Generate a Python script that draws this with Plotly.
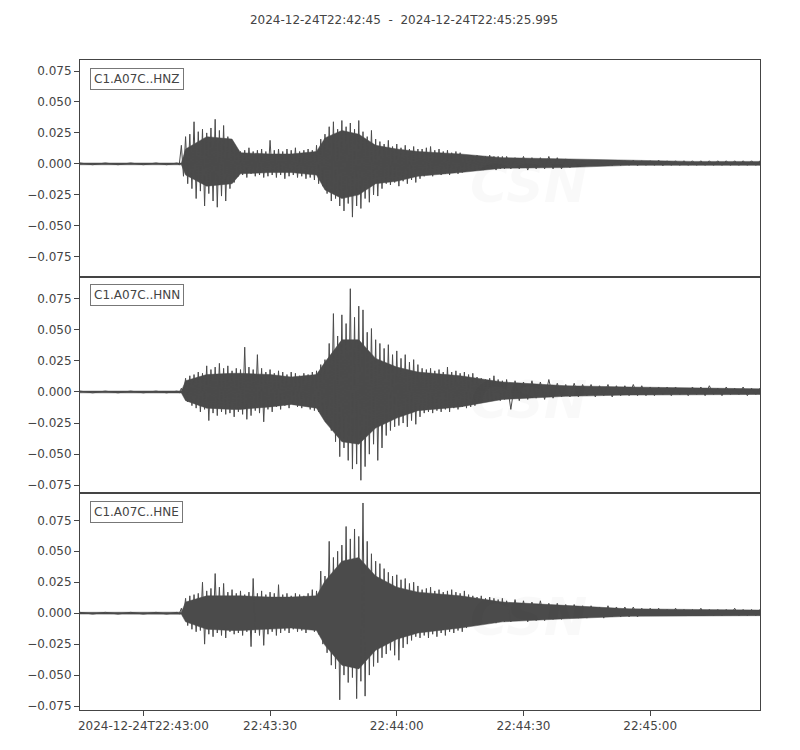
import plotly.graph_objects as go
from plotly.subplots import make_subplots

# Time in seconds after 2024-12-24T22:42:45 (envelope samples)
t_pre = [0, 6, 12, 18, 23]
t_main = list(range(24, 101))
t_tail = list(range(101, 162, 2))
t_sec = t_pre + t_main + t_tail

# coarse times for the dense core of each trace
core_t = [0, 24, 25, 30, 36, 38, 45, 50, 56, 58, 62, 66, 70, 75, 80, 90, 100, 115, 130, 145, 161]

tick_secs = [15, 45, 75, 105, 135]
tick_labels = ["2024-12-24T22:43:00", "22:43:30", "22:44:00", "22:44:30", "22:45:00"]

y_ticks = [-0.075, -0.05, -0.025, 0.0, 0.025, 0.05, 0.075]
y_tick_labels = ["\u22120.075", "\u22120.050", "\u22120.025", "0.000", "0.025", "0.050", "0.075"]

channels = ["C1.A07C..HNZ", "C1.A07C..HNN", "C1.A07C..HNE"]
y_ranges = [[-0.0911, 0.0839], [-0.0815, 0.0927], [-0.0782, 0.0968]]

# per-second maxima / minima
hnz_hi = [0.0007] * 5 + [
    0.015, 0.022, 0.024, 0.034, 0.026, 0.028, 0.025, 0.029, 0.036, 0.027,
    0.031, 0.022, 0.016, 0.012, 0.010, 0.011, 0.013, 0.010, 0.011, 0.012,
    0.010, 0.019, 0.011, 0.012, 0.010, 0.012, 0.011, 0.013, 0.010, 0.011,
    0.012, 0.011, 0.015, 0.020, 0.024, 0.030, 0.034, 0.028, 0.035, 0.030,
    0.033, 0.028, 0.035, 0.026, 0.022, 0.027, 0.020, 0.018, 0.016, 0.019,
    0.014, 0.016, 0.013, 0.015, 0.012, 0.014, 0.012, 0.012, 0.013, 0.014,
    0.011, 0.012, 0.010, 0.011, 0.009, 0.010, 0.009, 0.007, 0.007, 0.006,
    0.007, 0.006, 0.006, 0.007, 0.006, 0.006, 0.006,
] + [
    0.006, 0.005, 0.006, 0.005, 0.005, 0.006, 0.005, 0.004, 0.003, 0.003,
    0.003, 0.003, 0.0025, 0.003, 0.0025, 0.003, 0.0025, 0.0025, 0.003, 0.0025,
    0.0025, 0.0025, 0.0025, 0.0025, 0.0025, 0.0025, 0.0025, 0.0025, 0.0025, 0.0025,
    0.0025,
]
hnz_lo = [-0.0007] * 5 + [
    -0.010, -0.016, -0.020, -0.028, -0.022, -0.034, -0.024, -0.030, -0.035, -0.026,
    -0.030, -0.020, -0.015, -0.010, -0.009, -0.011, -0.008, -0.010, -0.009, -0.011,
    -0.010, -0.009, -0.011, -0.009, -0.012, -0.010, -0.009, -0.011, -0.010, -0.012,
    -0.011, -0.013, -0.016, -0.018, -0.024, -0.030, -0.028, -0.034, -0.038, -0.032,
    -0.043, -0.034, -0.036, -0.028, -0.031, -0.025, -0.026, -0.020, -0.016, -0.017,
    -0.015, -0.018, -0.014, -0.016, -0.013, -0.015, -0.012, -0.010, -0.009, -0.010,
    -0.008, -0.009, -0.008, -0.009, -0.007, -0.008, -0.007, -0.005, -0.004, -0.005,
    -0.004, -0.005, -0.004, -0.004, -0.005, -0.004, -0.004,
] + [
    -0.004, -0.004, -0.005, -0.004, -0.004, -0.004, -0.004, -0.003, -0.002, -0.0015,
    -0.0015, -0.0012, -0.0015, -0.0012, -0.0012, -0.0015, -0.0012, -0.0012, -0.0015, -0.0012,
    -0.0012, -0.0012, -0.0012, -0.0012, -0.0012, -0.0012, -0.0012, -0.0012, -0.0012, -0.0012,
    -0.0012,
]
hnz_core_hi = [0.0007, 0.0007, 0.012, 0.022, 0.020, 0.009, 0.008, 0.008, 0.010, 0.021, 0.027,
               0.024, 0.015, 0.012, 0.010, 0.008, 0.005, 0.004, 0.0025, 0.002, 0.002]
hnz_core_lo = [-0.0007, -0.0007, -0.009, -0.018, -0.016, -0.008, -0.007, -0.007, -0.009, -0.021, -0.028,
               -0.025, -0.016, -0.014, -0.010, -0.007, -0.0035, -0.003, -0.0012, -0.0012, -0.0012]

hnn_hi = [0.0007] * 5 + [
    0.003, 0.011, 0.013, 0.014, 0.016, 0.015, 0.021, 0.018, 0.020, 0.023,
    0.019, 0.021, 0.017, 0.019, 0.018, 0.036, 0.020, 0.018, 0.030, 0.019,
    0.016, 0.018, 0.015, 0.017, 0.016, 0.014, 0.016, 0.015, 0.013, 0.015,
    0.014, 0.016, 0.017, 0.022, 0.026, 0.039, 0.063, 0.045, 0.062, 0.055,
    0.083, 0.060, 0.069, 0.066, 0.048, 0.051, 0.042, 0.039, 0.035, 0.038,
    0.030, 0.033, 0.027, 0.030, 0.024, 0.026, 0.022, 0.019, 0.018, 0.019,
    0.017, 0.018, 0.016, 0.020, 0.016, 0.017, 0.015, 0.016, 0.014, 0.015,
    0.012, 0.011, 0.010, 0.011, 0.013, 0.010, 0.009,
] + [
    0.010, 0.009, 0.008, 0.009, 0.008, 0.010, 0.007, 0.006, 0.007, 0.006,
    0.006, 0.005, 0.006, 0.005, 0.005, 0.006, 0.005, 0.004, 0.004, 0.004,
    0.004, 0.003, 0.004, 0.004, 0.005, 0.003, 0.004, 0.003, 0.004, 0.003,
    0.003,
]
hnn_lo = [-0.0007] * 5 + [
    -0.002, -0.008, -0.011, -0.013, -0.016, -0.014, -0.023, -0.017, -0.019, -0.016,
    -0.018, -0.017, -0.020, -0.016, -0.018, -0.022, -0.019, -0.015, -0.017, -0.024,
    -0.014, -0.016, -0.012, -0.014, -0.011, -0.013, -0.010, -0.012, -0.013, -0.011,
    -0.014, -0.015, -0.016, -0.018, -0.024, -0.031, -0.040, -0.052, -0.045, -0.055,
    -0.062, -0.058, -0.071, -0.060, -0.050, -0.042, -0.055, -0.045, -0.035, -0.031,
    -0.028, -0.027, -0.025, -0.028, -0.023, -0.026, -0.020, -0.017, -0.016, -0.017,
    -0.015, -0.016, -0.014, -0.016, -0.013, -0.014, -0.012, -0.013, -0.012, -0.011,
    -0.008, -0.007, -0.006, -0.007, -0.006, -0.007, -0.006,
] + [
    -0.014, -0.007, -0.006, -0.005, -0.006, -0.005, -0.004, -0.004, -0.004, -0.003,
    -0.004, -0.003, -0.004, -0.003, -0.003, -0.003, -0.003, -0.003, -0.002, -0.003,
    -0.002, -0.003, -0.002, -0.003, -0.002, -0.003, -0.002, -0.002, -0.003, -0.002,
    -0.002,
]
hnn_core_hi = [0.0007, 0.0008, 0.009, 0.014, 0.015, 0.015, 0.014, 0.012, 0.014, 0.024, 0.042,
               0.042, 0.027, 0.020, 0.016, 0.013, 0.008, 0.005, 0.004, 0.003, 0.0025]
hnn_core_lo = [-0.0007, -0.0008, -0.007, -0.013, -0.014, -0.014, -0.012, -0.010, -0.013, -0.024, -0.040,
               -0.042, -0.029, -0.021, -0.015, -0.012, -0.006, -0.0035, -0.0025, -0.002, -0.002]

hne_hi = [0.0007] * 5 + [
    0.004, 0.012, 0.014, 0.015, 0.016, 0.025, 0.018, 0.020, 0.032, 0.021,
    0.024, 0.017, 0.019, 0.016, 0.018, 0.015, 0.017, 0.028, 0.016, 0.018,
    0.015, 0.017, 0.016, 0.023, 0.015, 0.016, 0.014, 0.016, 0.015, 0.014,
    0.016, 0.019, 0.018, 0.034, 0.030, 0.058, 0.045, 0.050, 0.055, 0.070,
    0.060, 0.068, 0.062, 0.089, 0.058, 0.048, 0.042, 0.040, 0.036, 0.033,
    0.030, 0.031, 0.027, 0.028, 0.024, 0.025, 0.022, 0.019, 0.020, 0.021,
    0.018, 0.019, 0.017, 0.018, 0.019, 0.017, 0.016, 0.018, 0.015, 0.014,
    0.013, 0.014, 0.012, 0.013, 0.012, 0.011, 0.012,
] + [
    0.010, 0.011, 0.010, 0.009, 0.010, 0.008, 0.008, 0.007, 0.007, 0.006,
    0.006, 0.005, 0.006, 0.005, 0.005, 0.005, 0.004, 0.004, 0.004, 0.003,
    0.004, 0.003, 0.003, 0.004, 0.003, 0.003, 0.003, 0.004, 0.003, 0.003,
    0.003,
]
hne_lo = [-0.0007] * 5 + [
    -0.003, -0.010, -0.013, -0.015, -0.014, -0.025, -0.017, -0.019, -0.016, -0.018,
    -0.020, -0.015, -0.017, -0.016, -0.018, -0.015, -0.027, -0.016, -0.018, -0.026,
    -0.017, -0.015, -0.018, -0.016, -0.014, -0.016, -0.013, -0.015, -0.014, -0.016,
    -0.013, -0.015, -0.017, -0.025, -0.032, -0.042, -0.045, -0.070, -0.050, -0.056,
    -0.052, -0.069, -0.055, -0.067, -0.050, -0.043, -0.040, -0.036, -0.033, -0.030,
    -0.034, -0.038, -0.028, -0.025, -0.022, -0.019, -0.020, -0.018, -0.020, -0.017,
    -0.019, -0.016, -0.018, -0.015, -0.016, -0.014, -0.015, -0.012, -0.009, -0.008,
    -0.009, -0.007, -0.008, -0.007, -0.008, -0.006, -0.007,
] + [
    -0.007, -0.006, -0.007, -0.006, -0.006, -0.005, -0.005, -0.004, -0.004, -0.004,
    -0.003, -0.004, -0.003, -0.003, -0.003, -0.003, -0.002, -0.002, -0.002, -0.002,
    -0.002, -0.002, -0.002, -0.002, -0.002, -0.002, -0.0015, -0.002, -0.002, -0.002,
    -0.002,
]
hne_core_hi = [0.0007, 0.0008, 0.009, 0.014, 0.014, 0.014, 0.013, 0.013, 0.014, 0.026, 0.042,
               0.045, 0.030, 0.021, 0.017, 0.014, 0.009, 0.006, 0.0035, 0.003, 0.0025]
hne_core_lo = [-0.0007, -0.0008, -0.007, -0.013, -0.014, -0.014, -0.013, -0.012, -0.014, -0.026, -0.042,
               -0.045, -0.030, -0.021, -0.016, -0.012, -0.007, -0.0045, -0.0025, -0.002, -0.002]

series = [
    (hnz_hi, hnz_lo, hnz_core_hi, hnz_core_lo),
    (hnn_hi, hnn_lo, hnn_core_hi, hnn_core_lo),
    (hne_hi, hne_lo, hne_core_hi, hne_core_lo),
]

trace_color = "#4b4b4b"
text_color = "#444444"


def zigzag(times, hi, lo):
    # alternate max / min within each sample step, like a min-max decimated trace
    xs, ys = [], []
    for i, t in enumerate(times):
        step = (times[i + 1] - t) if i + 1 < len(times) else 1
        xs += [t, t + step / 2]
        ys += [hi[i], lo[i]]
    return xs, ys


fig = make_subplots(rows=3, cols=1, shared_xaxes=True, vertical_spacing=0)

for i, (hi, lo, core_hi, core_lo) in enumerate(series):
    row = i + 1
    xd = "x domain" if i == 0 else f"x{row} domain"
    yd = "y domain" if i == 0 else f"y{row} domain"

    # faint CSN watermark (drawn under the trace)
    fig.add_annotation(
        text="<b><i>CSN</i></b>",
        xref=xd, yref=yd,
        x=0.66, y=0.43, xanchor="center", yanchor="middle",
        showarrow=False,
        font=dict(size=52, color="rgba(0,0,0,0.025)"),
    )
    fig.add_annotation(
        text="<i>CENTRO SISMOLÓGICO NACIONAL<br>UNIVERSIDAD DE CHILE</i>",
        xref=xd, yref=yd,
        x=0.66, y=0.14, xanchor="left", yanchor="middle", align="left",
        showarrow=False,
        font=dict(size=15, color="rgba(0,0,0,0.025)"),
    )

    # dense core of the oscillation
    fig.add_trace(
        go.Scatter(
            x=core_t + core_t[::-1],
            y=core_hi + core_lo[::-1],
            mode="lines",
            fill="toself",
            fillcolor=trace_color,
            line=dict(color=trace_color, width=0.5),
            showlegend=False,
            hoverinfo="skip",
        ),
        row=row,
        col=1,
    )
    # peaks
    xs, ys = zigzag(t_sec, hi, lo)
    fig.add_trace(
        go.Scatter(
            x=xs,
            y=ys,
            mode="lines",
            line=dict(color=trace_color, width=1),
            showlegend=False,
            hoverinfo="skip",
        ),
        row=row,
        col=1,
    )
    fig.update_yaxes(range=y_ranges[i], row=row, col=1)

    # channel label box
    fig.add_annotation(
        text=channels[i],
        xref=xd, yref=yd,
        x=0.014, y=0.965, xanchor="left", yanchor="top",
        showarrow=False,
        font=dict(size=12, color=text_color),
        bordercolor="#777777", borderwidth=1, borderpad=3,
        bgcolor="white",
    )

axis_style = dict(
    showline=True,
    linecolor="#444444",
    linewidth=1,
    mirror=True,
    showgrid=False,
    zeroline=False,
    ticks="outside",
    ticklen=5,
    tickcolor="#444444",
    tickfont=dict(size=12, color=text_color),
)
fig.update_xaxes(**axis_style, range=[0, 160.995])
fig.update_xaxes(tickvals=tick_secs, ticktext=tick_labels)
fig.update_xaxes(showticklabels=False, ticks="", row=1, col=1)
fig.update_xaxes(showticklabels=False, ticks="", row=2, col=1)
fig.update_yaxes(**axis_style, tickvals=y_ticks, ticktext=y_tick_labels)

# the page body adds an 8 px offset, so the figure is 8 px smaller each way
fig.update_layout(
    title=dict(
        text="2024-12-24T22:42:45\u00a0\u00a0-\u00a0\u00a02024-12-24T22:45:25.995",
        x=0.5, xref="container", xanchor="center",
        y=1 - 12 / 742, yref="container", yanchor="middle",
        font=dict(size=12, color=text_color),
    ),
    font=dict(family="DejaVu Sans"),
    width=792,
    height=742,
    margin=dict(l=72, r=40, t=52, b=40),
    plot_bgcolor="white",
    paper_bgcolor="white",
)

fig.write_html("out.html")
